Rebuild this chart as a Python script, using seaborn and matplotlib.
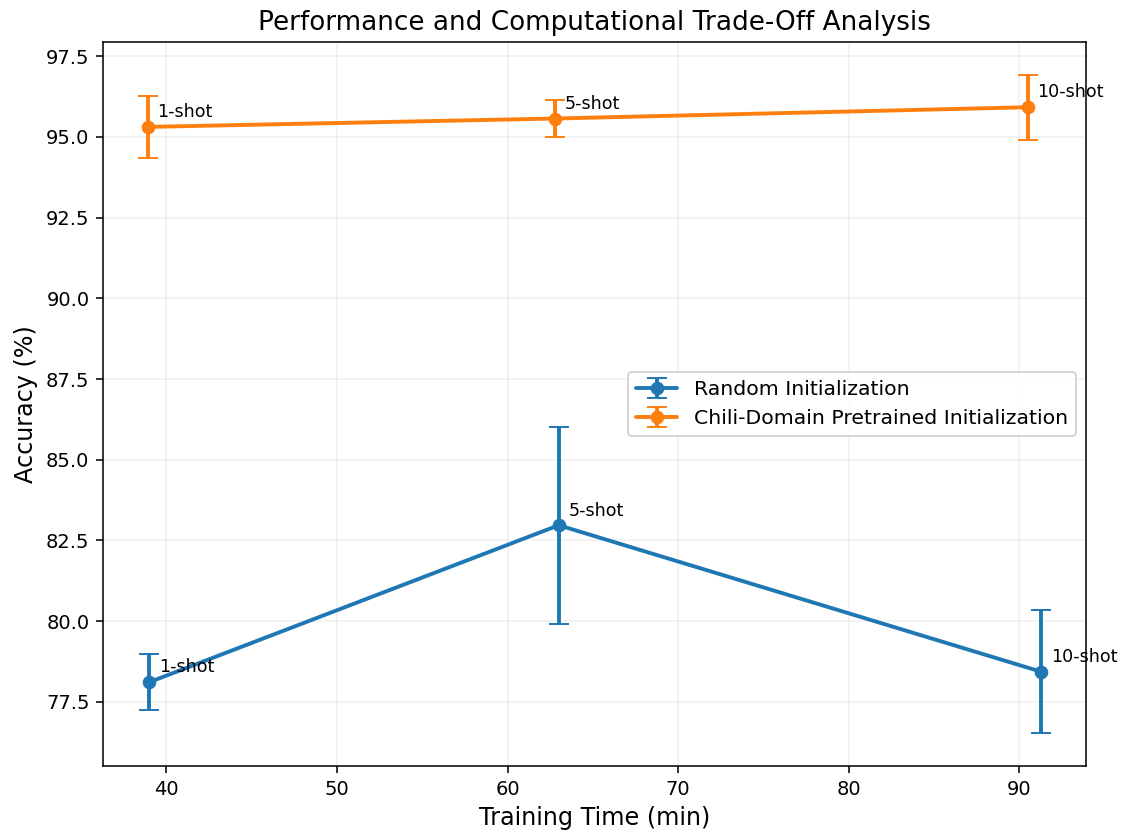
import numpy as np
import matplotlib
matplotlib.use("Agg")
import matplotlib.pyplot as plt
import seaborn as sns

# Data
shots = ["1-shot", "5-shot", "10-shot"]

random_time = [39.0, 63.0, 91.3]
random_acc = [78.11, 82.97, 78.43]
random_std = [0.86, 3.05, 1.90]

pretrained_time = [38.9, 62.8, 90.5]
pretrained_acc = [95.31, 95.57, 95.92]
pretrained_std = [0.95, 0.56, 1.00]

series = [
    ("Random Initialization", random_time, random_acc, random_std, "#1f77b4"),
    ("Chili-Domain Pretrained Initialization", pretrained_time, pretrained_acc, pretrained_std, "#ff7f0e"),
]

# Setup
sns.set_style("ticks", rc={"text.color": "black", "axes.labelcolor": "black",
                           "xtick.color": "black", "ytick.color": "black",
                           "axes.edgecolor": "black"})
plt.rcParams['font.family'] = ['DejaVu Sans']

fig, ax = plt.subplots(figsize=(1126 / 140, 834 / 140), dpi=140)
fig.subplots_adjust(left=0.0915, right=0.9645, top=0.9496, bottom=0.0815)

for label, t, acc, std, color in series:
    ax.errorbar(t, acc, yerr=std, fmt='-o', color=color, capsize=5,
                linewidth=2, markersize=6, label=label)
    for x, y, s in zip(t, acc, shots):
        ax.annotate(s, (x, y), textcoords="offset points", xytext=(5, 5), fontsize=9)

ax.set_title("Performance and Computational Trade-Off Analysis", fontsize=13.5)
ax.set_xlabel("Training Time (min)", fontsize=12.3)
ax.set_ylabel("Accuracy (%)", fontsize=12.3)
ax.grid(True, alpha=0.3)
ax.legend(loc="center right", fontsize=10.5)

fig.savefig("out.png", dpi=140)
